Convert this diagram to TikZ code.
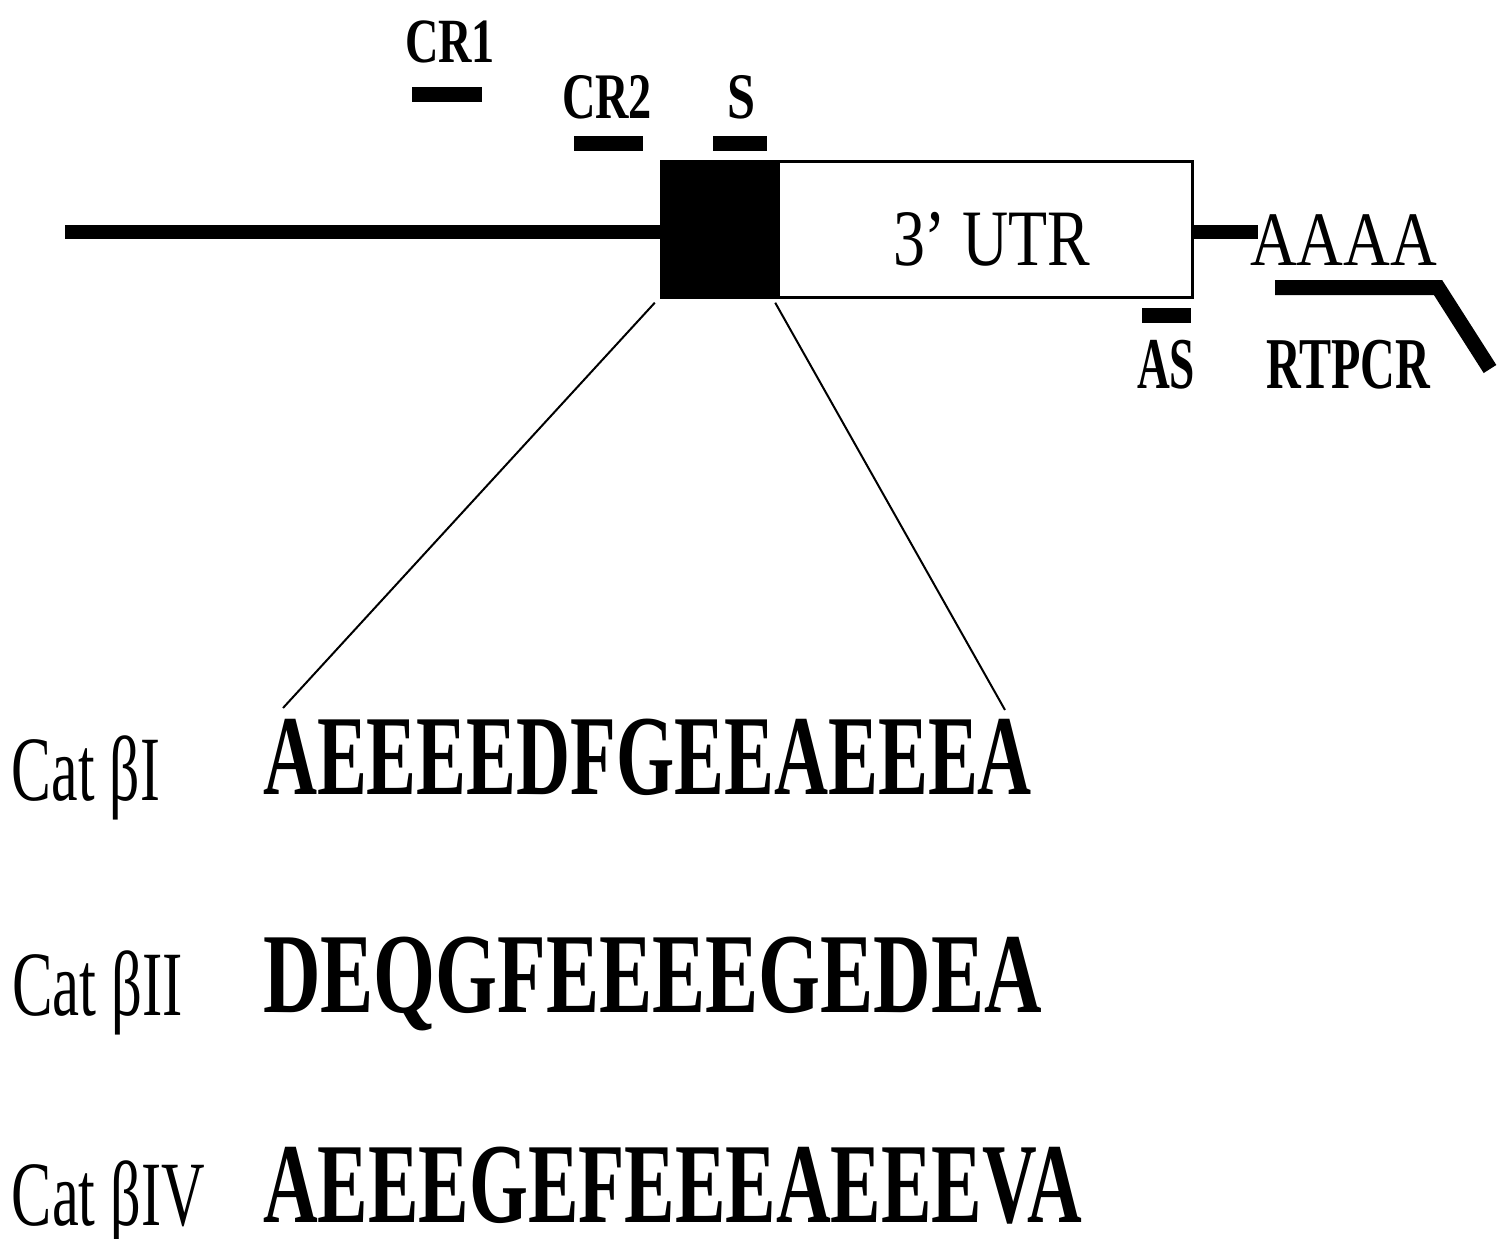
\documentclass[tikz,border=0pt]{standalone}
\usepackage{fontspec}
\setmainfont{Liberation Serif}
\usepackage{graphicx}

% Condensed text: #1 = width (pt), #2 = font size (pt), #3 = text
\newcommand\cnd[3]{\resizebox{#1pt}{\height}{\fontsize{#2}{#2}\selectfont #3}}

\tikzset{
  lbl/.style={anchor=base west, inner sep=0pt, outer sep=0pt},
  bar/.style={fill=black},
  zoomline/.style={line width=2pt},
}

\begin{document}
\begin{tikzpicture}[x=1pt,y=-1pt]
  \useasboundingbox (0,0) rectangle (1507,1239);

  % mRNA backbone and poly(A) tail link
  \node[fill=black, inner sep=0pt, minimum width=118pt, minimum height=139pt] (cds) at (719,229) {};
  \node[draw, line width=3pt, inner sep=0pt, minimum width=414pt, minimum height=136pt] (utr) at (985.5,229) {};
  \coordinate (lstart) at (65,232);
  \fill (65,225) rectangle (cds.west |- 0,239);
  \fill (utr.east |- 0,225) rectangle (1258,239);

  % primer bars
  \fill[bar] (412,87) rectangle (482,102);
  \fill[bar] (574,136) rectangle (643,151);
  \fill[bar] (713,136) rectangle (767,151);
  \fill[bar] (1142,308) rectangle (1191,323);

  % RT-PCR oligo(dT) primer
  \coordinate (rt0) at (1275,287.5);
  \coordinate (rt1) at (1438,287.5);
  \coordinate (rt2) at (1490,369);
  \draw[line width=15pt] (rt0) -- (rt1) -- (rt2);

  % labels on the transcript
  \node[lbl] (cr1) at (405,63) {\cnd{90}{63}{\bfseries CR1}};
  \node[lbl] (cr2) at (562,118) {\cnd{90}{65}{\bfseries CR2}};
  \node[lbl] (s) at (727,118) {\cnd{28}{65}{\bfseries S}};
  \node[lbl] (utrlbl) at (893,265) {\cnd{197}{80}{3’ UTR}};
  \node[lbl] (polya) at (1250,265) {\cnd{187}{77}{AAAA}};
  \node[lbl] (as) at (1137,388) {\cnd{58}{73}{\bfseries AS}};
  \node[lbl] (rtpcr) at (1266,388) {\cnd{164}{73}{\bfseries RTPCR}};

  % C-terminal sequences
  \node[lbl] (n1) at (12,800) {\cnd{148}{92}{Cat βI}};
  \node[lbl] (n2) at (12,1015) {\cnd{171}{92}{Cat βII}};
  \node[lbl] (n3) at (12,1225) {\cnd{193}{92}{Cat βIV}};
  \node[lbl] (q1) at (263,794) {\cnd{769}{114}{\bfseries AEEEEDFGEEAEEEA}};
  \node[lbl] (q2) at (263,1012) {\cnd{779}{114}{\bfseries DEQGFEEEEGEDEA}};
  \node[lbl] (q3) at (263,1222) {\cnd{819}{114}{\bfseries AEEEGEFEEEAEEEVA}};

  % expansion of the coding-region tail
  \coordinate (zl) at (283,708);
  \coordinate (zr) at (1005,710);
  \draw[zoomline] ([xshift=-5pt,yshift=-4pt]cds.south west) -- (zl);
  \draw[zoomline] ([xshift=-3pt,yshift=-4pt]cds.south east) -- (zr);
\end{tikzpicture}
\end{document}
